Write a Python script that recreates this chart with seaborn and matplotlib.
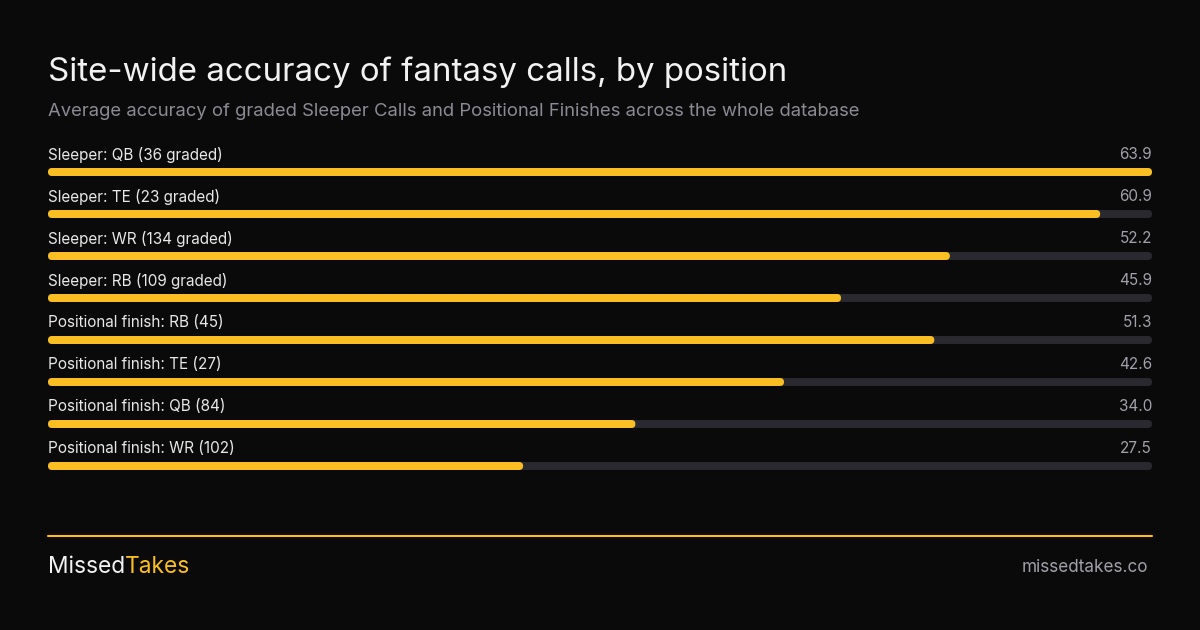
import pandas as pd
import matplotlib
matplotlib.use("Agg")
import matplotlib.pyplot as plt
import seaborn as sns
from matplotlib.patches import FancyBboxPatch
from matplotlib.lines import Line2D

labels = ["Sleeper: QB (36 graded)", "Sleeper: TE (23 graded)", "Sleeper: WR (134 graded)",
          "Sleeper: RB (109 graded)", "Positional finish: RB (45)", "Positional finish: TE (27)",
          "Positional finish: QB (84)", "Positional finish: WR (102)"]
accuracy = [63.9, 60.9, 52.2, 45.9, 51.3, 42.6, 34.0, 27.5]

BG = "#0a0a0a"
YELLOW = "#fbbf24"
TRACK = "#2a292f"

df = pd.DataFrame({"label": labels, "accuracy": accuracy})
top = max(accuracy)
df["track"] = top

sns.set_theme(style="white")
plt.rcParams["font.family"] = ["Inter", "DejaVu Sans"]

fig = plt.figure(figsize=(12, 6.3), dpi=100, facecolor=BG)
ax = fig.add_axes([0.04, 1 - 487 / 630, 0.92, 340.2 / 630])
ax.set_facecolor(BG)

sns.barplot(data=df, x="track", y="label", orient="h", color=TRACK, width=0.19,
            saturation=1, ax=ax)
sns.barplot(data=df, x="accuracy", y="label", orient="h", color=YELLOW, width=0.19,
            saturation=1, ax=ax)

ax.set_xlim(0, top)
ax.set_ylim(7.5, -0.6)

# round the bar ends (4px radius)
px_x = 1104 / top
px_y = 42.0
asp = px_x / px_y
r = 4 / px_x
for p in list(ax.patches):
    x, y = p.get_x(), p.get_y()
    w, h = p.get_width(), p.get_height()
    fc = p.get_facecolor()
    p.remove()
    ax.add_patch(FancyBboxPatch((x, y), w, h, boxstyle=f"round,pad=0,rounding_size={r}",
                                mutation_aspect=asp, facecolor=fc, edgecolor="none"))

for i, (lab, v) in enumerate(zip(labels, accuracy)):
    ax.text(0, i - 0.41, lab, color="#e8e8e8", fontsize=11, va="center", ha="left")
    ax.text(top, i - 0.41, f"{v:.1f}", color="#a1a1aa", fontsize=11, va="center", ha="right")

ax.set_xlabel("")
ax.set_ylabel("")
ax.set_xticks([])
ax.set_yticks([])
sns.despine(ax=ax, left=True, bottom=True)

fig.text(0.04, 1 - 72 / 630, "Site-wide accuracy of fantasy calls, by position",
         color="#f2f2f2", fontsize=23.8, va="center", ha="left")
fig.text(0.04, 1 - 111 / 630,
         "Average accuracy of graded Sleeper Calls and Positional Finishes across the whole database",
         color="#8b8b94", fontsize=13.3, va="center", ha="left")

fig.add_artist(Line2D([0.04, 0.96], [1 - 536 / 630] * 2, color=YELLOW, lw=1.5,
                      transform=fig.transFigure))
t1 = fig.text(0.04, 1 - 567 / 630, "Missed", color="#f2f2f2", fontsize=16.4,
              va="center", ha="left")
ax.annotate("Takes", xy=(1, 0), xycoords=t1, va="bottom", ha="left",
            color=YELLOW, fontsize=16.4)
fig.text(1148 / 1200, 1 - 567 / 630, "missedtakes.co", color="#a1a1aa", fontsize=12.3,
         va="center", ha="right")

fig.savefig("out.png", dpi=100, facecolor=BG)
